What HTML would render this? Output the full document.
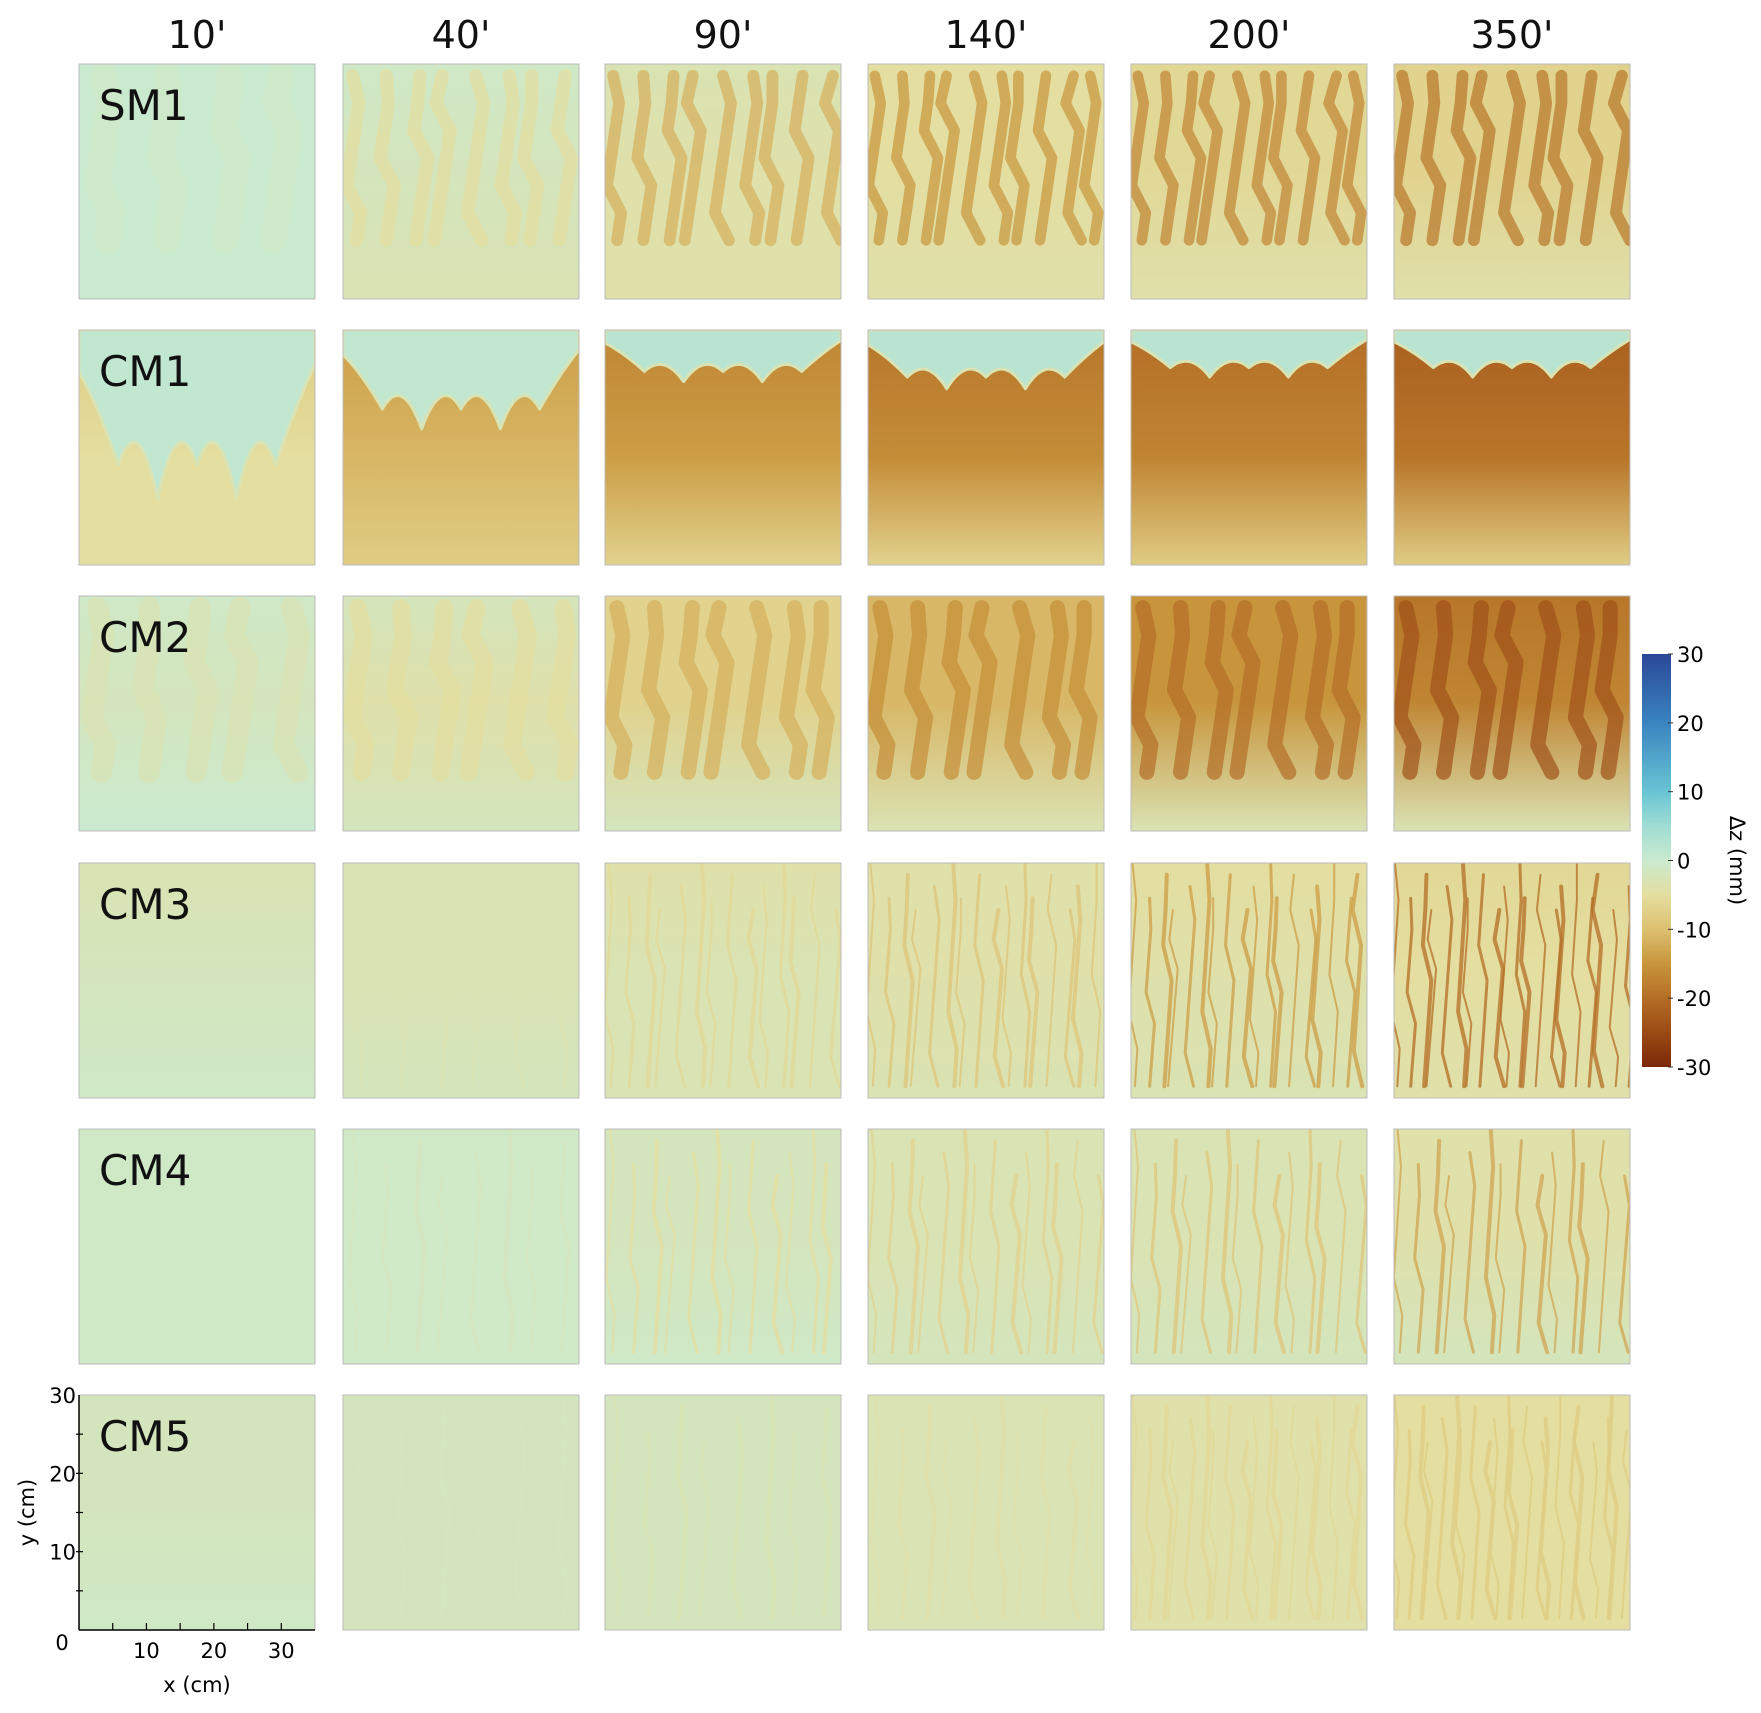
<!DOCTYPE html>
<html><head><meta charset="utf-8"><style>
html,body{margin:0;padding:0;background:#fff}
svg{display:block;font-family:"DejaVu Sans","Liberation Sans",sans-serif}
</style></head><body>
<svg id="fig" width="1761" height="1713" viewBox="0 0 1761 1713">
<defs id="defs"></defs>
<g id="panels"></g>
<g id="labels"></g>
</svg>
<script>
const times = ["10'", "40'", "90'", "140'", "200'", "350'"];
const runs = ["SM1", "CM1", "CM2", "CM3", "CM4", "CM5"];
// mean Δz (mm) at top, middle, bottom of each panel [row][col]
const dzTop = [
 [0,-1,-3,-5,-6,-7],[1,1,2,2,2,2],[-1,-2,-7,-11,-15,-19],[-3,-3,-4,-4,-5,-6],[-1,-1,-2,-3,-3,-4],[-2,-2,-2,-3,-4,-5]];
const dzMid = [
 [0,-2,-4,-5,-6,-7],[-8,-14,-17,-19,-20,-22],[-2,-4,-7,-11,-15,-17],[-2,-3,-3,-4,-4,-5],[-1,-1,-2,-3,-3,-4],[-2,-2,-2,-3,-4,-5]];
const dzBot = [
 [0,-3,-4,-4,-4,-4],[-5,-8,-7,-7,-8,-8],[0,-2,-2,-3,-3,-3],[-1,-2,-3,-3,-3,-4],[-1,-1,-1,-2,-2,-2],[-1,-2,-2,-3,-4,-5]];
// channel streak depth (mm) and count per panel
const streakDz = [
 [-1,-5,-12,-15,-17,-19],[0,0,0,0,0,0],[-3,-5,-12,-16,-20,-24],[0,-3,-6,-9,-14,-20],[0,-2,-5,-7,-9,-13],[0,-2,-3,-4,-6,-8]];
const streakN = [
 [4,8,9,10,10,9],[0,0,0,0,0,0],[5,6,7,7,7,7],[0,6,14,16,18,20],[0,8,12,14,14,14],[0,6,8,10,18,22]];
// CM1 wetting-front depth (fraction of panel height)
const frontDepth = [0.72,0.42,0.22,0.25,0.2,0.2];
const cbTicks = [30,20,10,0,-10,-20,-30];
const xTicks = [10,20,30];
const yTicks = [30,20,10];

const stops=[[-30,[123,40,8]],[-25,[154,74,20]],[-20,[180,110,38]],[-15,[200,149,60]],[-10,[220,192,112]],[-5,[228,222,160]],[0,[202,234,208]],[5,[160,220,212]],[10,[104,196,212]],[20,[58,132,192]],[30,[42,72,152]]];
function cmap(v){v=Math.max(-30,Math.min(30,v));for(let i=0;i<stops.length-1;i++){const a=stops[i],b=stops[i+1];if(v<=b[0]){const t=(v-a[0])/(b[0]-a[0]);const c=a[1].map((x,k)=>Math.round(x+(b[1][k]-x)*t));return `rgb(${c[0]},${c[1]},${c[2]})`;}}return 'rgb(42,72,152)';}

const NS="http://www.w3.org/2000/svg";
const colX=[79,343,605,868,1131,1394], rowY=[64,330,596,863,1129,1395], PW=236, PH=235;
const defs=document.getElementById('defs'), G=document.getElementById('panels'), L=document.getElementById('labels');
function el(tag,attrs,parent){const e=document.createElementNS(NS,tag);for(const k in attrs)e.setAttribute(k,attrs[k]);parent.appendChild(e);return e;}
function txt(s,attrs,parent){const e=el('text',attrs,parent);e.textContent=s;return e;}

for(let r=0;r<6;r++)for(let c=0;c<6;c++){
  const x=colX[c],y=rowY[r],id=`g${r}${c}`;
  const lg=el('linearGradient',{id:id,x1:0,y1:0,x2:0,y2:1},defs);
  if(r===1){
    el('stop',{offset:0,'stop-color':cmap(dzMid[r][c])},lg);
    el('stop',{offset:0.55,'stop-color':cmap(dzMid[r][c]+3)},lg);
    el('stop',{offset:1,'stop-color':cmap(dzBot[r][c])},lg);
  } else {
    el('stop',{offset:0,'stop-color':cmap(dzTop[r][c])},lg);
    el('stop',{offset:0.45,'stop-color':cmap(dzMid[r][c])},lg);
    el('stop',{offset:1,'stop-color':cmap(dzBot[r][c])},lg);
  }
  const g=el('g',{},G);
  
  
  const cp=el('clipPath',{id:'c'+id},defs);el('rect',{x:x,y:y,width:PW,height:PH},cp);
  const inner=el('g',{'clip-path':`url(#c${id})`},g);
  el('rect',{x:x,y:y,width:PW,height:PH,fill:`url(#${id})`},inner);
  if(r===1){
    const fd=frontDepth[c]*PH;
    let d=`M${x},${y} L${x+PW},${y} L${x+PW},${y+fd*0.2}`;
    const n=6;
    let px=x+PW, py=y+fd*0.2;
    for(let i=n-1;i>=0;i--){
      const nx=x+PW*i/n;
      const ny=y+(i===0?fd*0.25:(i%2?fd*0.8:fd));
      d+=` Q${(px+nx)/2},${y+fd*0.45} ${nx},${ny}`;
      px=nx;py=ny;
    }
    d+=` L${x},${y} Z`;
    el('path',{d:d,fill:cmap(dzTop[r][c]),stroke:cmap(-3),'stroke-width':3,'stroke-linejoin':'round'},inner);
  }
  const n=streakN[r][c];
  for(let i=0;i<n;i++){
    const sx=x+PW*(i+0.5)/n+((i*37)%11-5);
    const broad=(r===0||r===2);
    const y0=y+(broad?PH*0.05:PH*((i*13)%5)/20), y1=y+PH*(broad?0.75:0.95);
    let d=`M${sx},${y0}`;const seg=6;
    for(let k=1;k<=seg;k++){d+=` L${sx+(((i+k)*7)%9-4)*(broad?2:1.2)},${y0+(y1-y0)*k/seg}`;}
    el('path',{d:d,fill:'none',stroke:cmap(streakDz[r][c]),'stroke-width':broad?Math.max(6,PW/n*0.45):(2+(i%3)),'stroke-opacity':broad?0.7:0.75,'stroke-linecap':'round','stroke-linejoin':'round'},inner);
  }
  el('rect',{x:x,y:y,width:PW,height:PH,fill:'none',stroke:'#bbb','stroke-width':1},g);
}
times.forEach((t,c)=>{const e=txt(t,{x:colX[c]+PW/2,y:48,'font-size':38,'text-anchor':'middle',fill:'#111'},L);
});
runs.forEach((s,r)=>{const e=txt(s,{x:99,y:rowY[r]+56,'font-size':42,fill:'#111'},L);
});

const ax=colX[0],ay=rowY[5],xs=v=>ax+v/35*PW,ys=v=>ay+PH-v/30*PH;
const axg=el('g',{},L);
el('line',{x1:ax,y1:ay,x2:ax,y2:ay+PH,stroke:'#000','stroke-width':1.5},axg);
el('line',{x1:ax,y1:ay+PH,x2:ax+PW,y2:ay+PH,stroke:'#000','stroke-width':1.5},axg);
for(let v=5;v<35;v+=5)el('line',{x1:xs(v),y1:ay+PH,x2:xs(v),y2:ay+PH-7,stroke:'#000','stroke-width':1.2},axg);
for(let v=5;v<30;v+=5)el('line',{x1:ax-3,y1:ys(v),x2:ax+4,y2:ys(v),stroke:'#000','stroke-width':1.2},axg);
xTicks.forEach(v=>{const e=txt(String(v),{x:xs(v),y:ay+PH+28,'font-size':21,'text-anchor':'middle'},axg);});
yTicks.forEach(v=>{const e=txt(String(v),{x:ax-3,y:ys(v)+8,'font-size':21,'text-anchor':'end'},axg);});
{const e=txt('0',{x:62,y:ay+PH+20,'font-size':21,'text-anchor':'middle'},axg);}
{const e=txt('x (cm)',{x:xs(17.5),y:1692,'font-size':21,'text-anchor':'middle'},axg);}
{const e=txt('y (cm)',{x:0,y:0,'font-size':21,'text-anchor':'middle',transform:`translate(34,${ys(15)}) rotate(-90)`},axg);}

const cbx=1642,cby=654,cbw=29,cbh=413,cs=v=>cby+(30-v)/60*cbh;
const cbg=el('g',{},L);
const cg=el('linearGradient',{id:'cbgrad',x1:0,y1:0,x2:0,y2:1},defs);
for(let v=30;v>=-30;v-=5)el('stop',{offset:(30-v)/60,'stop-color':cmap(v)},cg);
el('rect',{x:cbx,y:cby,width:cbw,height:cbh,fill:'url(#cbgrad)'},cbg);
cbTicks.forEach(v=>{el('line',{x1:cbx+cbw-3,y1:cs(v),x2:cbx+cbw+2,y2:cs(v),stroke:'#333'},cbg);
const e=txt(String(v),{x:cbx+cbw+6,y:cs(v)+8,'font-size':21},cbg);});
{const e=txt('Δz (mm)',{x:0,y:0,'font-size':21,'text-anchor':'middle',transform:`translate(1730,${cs(0)}) rotate(90)`},cbg);}
</script>
</body></html>
